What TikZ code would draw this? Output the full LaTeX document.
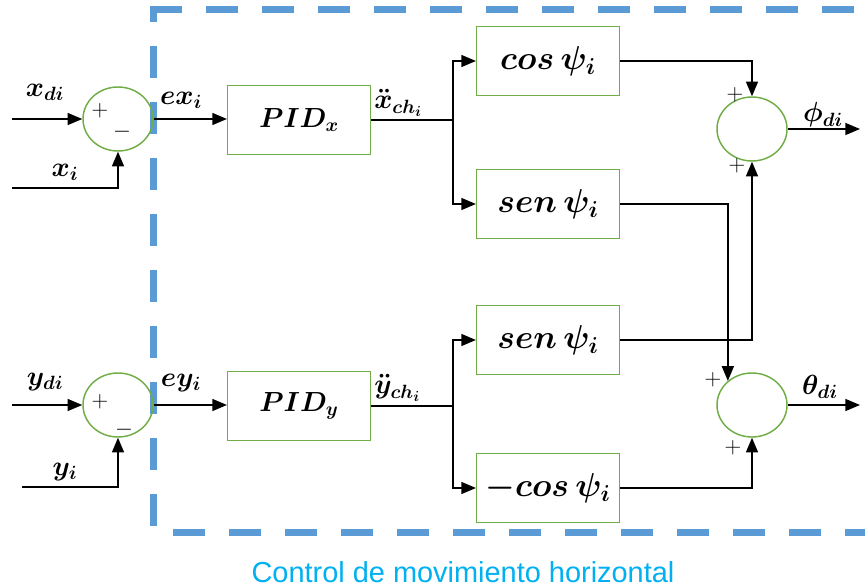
\documentclass[tikz,border=0pt]{standalone}
\usepackage{fontspec}
\newfontfamily\capfont{Liberation Sans}
\usetikzlibrary{arrows.meta,shapes.geometric,calc}
\definecolor{gbox}{HTML}{70AD47}
\definecolor{dblue}{HTML}{5B9BD5}
\definecolor{cblue}{HTML}{00B0F0}
\begin{document}
\begin{tikzpicture}[x=0.75pt,y=-0.75pt,
 blk/.style={draw=gbox,line width=1.1pt,minimum width=107pt,minimum height=52pt,inner sep=0pt,font=\fontsize{23}{26}\selectfont\boldmath},
 pidblk/.style={blk,font=\fontsize{20}{24}\selectfont\boldmath},
 sumnode/.style={ellipse,draw=gbox,line width=1.1pt,minimum width=52.5pt,minimum height=48pt,inner sep=0pt},
 lbl/.style={font=\fontsize{22}{25}\selectfont\boldmath,inner sep=0pt},
 sgn/.style={font=\fontsize{19}{22}\selectfont,inner sep=0pt},
 conn/.style={line width=1.1pt},
 arr/.style={conn,-{Triangle[length=11pt,width=9pt]}},
 frame/.style={draw=dblue,line width=5.25pt,dash pattern=on 24pt off 18pt}]
\useasboundingbox (0,0) rectangle (865,588);
% dashed frame
\draw[frame] (150,10) -- (900,10);
\draw[frame,dash phase=15pt] (153,10) -- (153,532);
\draw[frame] (173,532) -- (900,532);
% nodes
\node[sumnode] (s1) at (118,119) {};
\node[sumnode] (s2) at (118,405) {};
\node[pidblk] (pidx) at (299,120) {$PID_x$};
\node[pidblk] (pidy) at (299,406) {$PID_y$};
\node[blk] (cx) at (548,61) {$cos\,\psi_i$};
\node[blk] (sx) at (548,204) {$sen\,\psi_i$};
\node[blk] (sy) at (548,340) {$sen\,\psi_i$};
\node[blk] (cy) at (548,488) {$-cos\,\psi_i$};
\node[sumnode] (s3) at (752,129) {};
\node[sumnode] (s4) at (752,405) {};
% coordinates
\coordinate (xdin) at (12,119);
\coordinate (xin) at (12,188);
\coordinate (ydin) at (12,405);
\coordinate (yin) at (22,487);
\coordinate (bx) at (453,120);
\coordinate (by) at (453,406);
\coordinate (phiout) at (860,129);
\coordinate (thout) at (860,405);
% connectors
\draw[arr] (xdin) -- (s1.west);
\draw[arr] (xin) -| (s1.south);
\draw[arr] (s1.east) -- (s1.east -| pidx.west);
\draw[arr] (ydin) -- (s2.west);
\draw[arr] (yin) -| (s2.south);
\draw[arr] (s2.east) -- (s2.east -| pidy.west);
\draw[conn] (pidx.east) -- (bx);
\draw[arr] (bx) |- (cx.west);
\draw[arr] (bx) |- (sx.west);
\draw[conn] (pidy.east) -- (by);
\draw[arr] (by) |- (sy.west);
\draw[arr] (by) |- (cy.west);
\draw[arr] (cx.east) -| (s3.north);
\draw[arr] (sx.east) -| (s4.135);
\draw[arr] (sy.east) -| (s3.south);
\draw[arr] (cy.east) -| (s4.south);
\draw[arr] (s3.east) -- (phiout);
\draw[arr] (s4.east) -- (thout);
% labels
\node[lbl] (lxdi) at (45,92) {$x_{di}$};
\node[lbl] (lxi) at (65,172) {$x_i$};
\node[lbl] (lexi) at (181,100) {$ex_i$};
\node[lbl,anchor=west] (lxdd) at (374,103) {$\ddot{x}_{ch_i}$};
\node[lbl] (lydi) at (45,382) {$y_{di}$};
\node[lbl] (lyi) at (65,472) {$y_i$};
\node[lbl] (leyi) at (181,383) {$ey_i$};
\node[lbl,anchor=west] (lydd) at (374,388) {$\ddot{y}_{ch_i}$};
\node[lbl] (lphi) at (823,115) {$\phi_{di}$};
\node[lbl] (lth) at (820,387) {$\theta_{di}$};
% signs
\node[sgn] (p1) at (100,111) {$+$};
\node[sgn] (m1) at (122,132) {$-$};
\node[sgn] (p2) at (100,402) {$+$};
\node[sgn] (m2) at (124,430) {$-$};
\node[sgn] (p3) at (735,95) {$+$};
\node[sgn] (p4) at (737,166) {$+$};
\node[sgn] (p5) at (713,380) {$+$};
\node[sgn] (p6) at (733,448) {$+$};
% caption
\node[font=\capfont\fontsize{21.7}{26}\selectfont,text=cblue,inner sep=0pt] (cap) at (463,572) {Control de movimiento horizontal};
\end{tikzpicture}
\end{document}
